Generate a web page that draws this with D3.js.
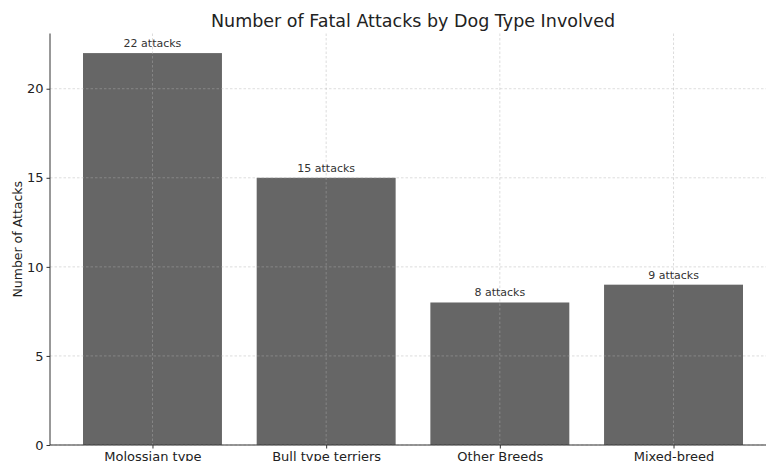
<!DOCTYPE html>
<html>
<head>
<meta charset="utf-8">
<script src="https://cdn.jsdelivr.net/npm/d3@7"></script>
<style>
  html, body { margin: 0; padding: 0; background: #fff; overflow: hidden; }
  svg { display: block; font-family: "DejaVu Sans", sans-serif; }
</style>
</head>
<body>
<svg id="chart" width="766" height="461"></svg>
<script>
// Fatal attacks per dog type
const categories = ["Molossian type", "Bull type terriers", "Other Breeds", "Mixed-breed"];
const attacks = [22, 15, 8, 9];
const yTicks = [0, 5, 10, 15, 20];
const title = "Number of Fatal Attacks by Dog Type Involved";
const yLabel = "Number of Attacks";

const svg = d3.select("#chart");
const margin = { left: 50, right: 776, top: 33.5, bottom: 445 };

// Band positions: bar width 0.8 of step, with 5% padding around the bar extent
const n = categories.length;
const xLin = d3.scaleLinear()
  .domain([-0.4 - 0.19, (n - 1) + 0.4 + 0.19])
  .range([margin.left, margin.right]);
const y = d3.scaleLinear()
  .domain([0, 22 * 1.05])
  .range([margin.bottom, margin.top]);

const barW = xLin(0.8) - xLin(0);

// Bars
svg.append("g").selectAll("rect")
  .data(attacks)
  .join("rect")
  .attr("x", (d, i) => xLin(i - 0.4))
  .attr("y", d => y(d))
  .attr("width", barW)
  .attr("height", d => y(0) - y(d))
  .attr("fill", "#666666");

// Grid, drawn over the bars
const grid = svg.append("g")
  .attr("stroke", "#b0b0b0")
  .attr("stroke-opacity", 0.55)
  .attr("stroke-width", 0.8)
  .attr("stroke-dasharray", "2.5,2");
grid.selectAll("line.h")
  .data(yTicks)
  .join("line")
  .attr("class", "h")
  .attr("x1", margin.left).attr("x2", margin.right)
  .attr("y1", d => y(d)).attr("y2", d => y(d));
grid.selectAll("line.v")
  .data(categories)
  .join("line")
  .attr("class", "v")
  .attr("x1", (d, i) => xLin(i)).attr("x2", (d, i) => xLin(i))
  .attr("y1", margin.top).attr("y2", margin.bottom);

// Value labels
svg.append("g").selectAll("text")
  .data(attacks)
  .join("text")
  .attr("x", (d, i) => xLin(i))
  .attr("y", d => y(d) - 6)
  .attr("text-anchor", "middle")
  .attr("font-size", 11)
  .attr("fill", "#333")
  .text(d => d + " attacks");

// Y axis
const yAxis = d3.axisLeft(y).tickValues(yTicks).tickSize(3.5).tickPadding(3);
const gy = svg.append("g")
  .attr("transform", `translate(${margin.left},0)`)
  .call(yAxis);
gy.select(".domain").attr("d", `M0,${margin.top}V${margin.bottom}`).attr("stroke", "#333").attr("stroke-width", 1);
gy.selectAll(".tick line").attr("stroke", "#333");
gy.selectAll(".tick text").attr("font-size", 13).attr("fill", "#222").attr("font-family", "DejaVu Sans");

// X axis
const xAxis = d3.axisBottom(xLin)
  .tickValues(d3.range(n))
  .tickFormat(i => categories[i])
  .tickSize(3.5).tickPadding(3);
const gx = svg.append("g")
  .attr("transform", `translate(0,${margin.bottom})`)
  .call(xAxis);
gx.select(".domain").attr("d", `M${margin.left},0H${margin.right}`).attr("stroke", "#333").attr("stroke-width", 1);
gx.selectAll(".tick line").attr("stroke", "#333");
gx.selectAll(".tick text").attr("font-size", 13).attr("fill", "#222").attr("font-family", "DejaVu Sans");

// Y label
svg.append("text")
  .attr("transform", `translate(22,${(margin.top + margin.bottom) / 2}) rotate(-90)`)
  .attr("text-anchor", "middle")
  .attr("font-size", 12.5)
  .attr("fill", "#222")
  .text(yLabel);

// Title
svg.append("text")
  .attr("x", (margin.left + margin.right) / 2)
  .attr("y", 26.5)
  .attr("text-anchor", "middle")
  .attr("font-size", 17.5)
  .attr("fill", "#222")
  .text(title);
</script>
</body>
</html>
